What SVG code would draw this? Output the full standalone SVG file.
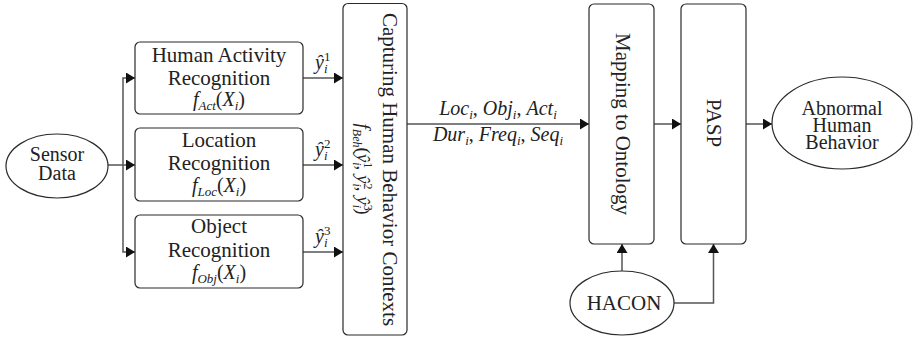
<svg xmlns="http://www.w3.org/2000/svg" width="913" height="339" viewBox="0 0 913 339">
  <defs>
    <marker id="arrow" markerUnits="userSpaceOnUse" markerWidth="10" markerHeight="12" refX="9" refY="5.5" orient="auto">
      <path d="M0,0 L9,5.5 L0,11 Z" fill="#111"/>
    </marker>
  </defs>
  <style>
    .box { fill: #fff; stroke: #2a2a2a; stroke-width: 1.2; }
    .oval { fill: #fff; stroke: #2a2a2a; stroke-width: 1.2; }
    .lbl { font-family: 'Liberation Serif', 'Times New Roman', Times, serif; font-size: 21px; fill: #222; text-anchor: middle; }
    .tight { font-size: 20px; }
    .math { font-family: 'Liberation Serif', 'Times New Roman', Times, serif; font-size: 20px; fill: #222; font-style: italic; }
    .up { font-style: normal; }
    .sub { font-size: 13px; }
    .wire { fill: none; stroke: #555; stroke-width: 1.5; marker-end: url(#arrow); }
  </style>

  <rect width="913" height="339" fill="#fff"/>

  <!-- connectors -->
  <g id="connectors">
    <path class="wire" d="M108,165 H135"/>
    <path class="wire" d="M123,165 V78 H135"/>
    <path class="wire" d="M123,165 V252 H135"/>
    <path class="wire" d="M303,78 H343"/>
    <path class="wire" d="M303,165 H343"/>
    <path class="wire" d="M303,252 H343"/>
    <path class="wire" d="M407,124 H589"/>
    <path class="wire" d="M654,124 H681"/>
    <path class="wire" d="M746,124 H772"/>
    <path class="wire" d="M622,271 V244"/>
    <path class="wire" d="M674,303 H713.5 V244"/>

    <!-- edge labels -->
    <text class="math" x="315" y="69">ŷ<tspan class="up sub" dy="-8">1</tspan><tspan class="sub" dx="-6.5" dy="12">i</tspan></text>
    <text class="math" x="315" y="156">ŷ<tspan class="up sub" dy="-8">2</tspan><tspan class="sub" dx="-6.5" dy="12">i</tspan></text>
    <text class="math" x="315" y="243">ŷ<tspan class="up sub" dy="-8">3</tspan><tspan class="sub" dx="-6.5" dy="12">i</tspan></text>

    <text class="math" x="498" y="115" text-anchor="middle">Loc<tspan class="sub" dy="4">i</tspan><tspan class="up" dy="-4">, </tspan>Obj<tspan class="sub" dy="4">i</tspan><tspan class="up" dy="-4">, </tspan>Act<tspan class="sub" dy="4">i</tspan></text>
    <text class="math" x="498" y="141" text-anchor="middle">Dur<tspan class="sub" dy="4">i</tspan><tspan class="up" dy="-4">, </tspan>Freq<tspan class="sub" dy="4">i</tspan><tspan class="up" dy="-4">, </tspan>Seq<tspan class="sub" dy="4">i</tspan></text>
  </g>

  <!-- input ellipse -->
  <g id="sensor-data">
    <ellipse class="oval" cx="57" cy="166" rx="51" ry="32"/>
    <text class="lbl tight" x="57" y="161">Sensor</text>
    <text class="lbl tight" x="57" y="180">Data</text>
  </g>

  <!-- recognition modules -->
  <g id="activity-recognition">
    <rect class="box" x="135" y="42" width="168" height="72" rx="5"/>
    <text class="lbl" x="219" y="62">Human Activity</text>
    <text class="lbl" x="219" y="85">Recognition</text>
    <text class="math" x="219" y="106" text-anchor="middle">f<tspan class="sub" dy="4">Act</tspan><tspan class="up" dy="-4">(</tspan>X<tspan class="sub" dy="4">i</tspan><tspan class="up" dy="-4">)</tspan></text>
  </g>

  <g id="location-recognition">
    <rect class="box" x="135" y="128" width="168" height="73" rx="5"/>
    <text class="lbl" x="219" y="147">Location</text>
    <text class="lbl" x="219" y="170">Recognition</text>
    <text class="math" x="219" y="192" text-anchor="middle">f<tspan class="sub" dy="4">Loc</tspan><tspan class="up" dy="-4">(</tspan>X<tspan class="sub" dy="4">i</tspan><tspan class="up" dy="-4">)</tspan></text>
  </g>

  <g id="object-recognition">
    <rect class="box" x="135" y="215" width="168" height="73" rx="5"/>
    <text class="lbl" x="219" y="233">Object</text>
    <text class="lbl" x="219" y="257">Recognition</text>
    <text class="math" x="219" y="279" text-anchor="middle">f<tspan class="sub" dy="4">Obj</tspan><tspan class="up" dy="-4">(</tspan>X<tspan class="sub" dy="4">i</tspan><tspan class="up" dy="-4">)</tspan></text>
  </g>

  <!-- context capture -->
  <g id="behavior-contexts">
    <rect class="box" x="343" y="3.5" width="64" height="331.5" rx="5"/>
    <text class="lbl" transform="translate(383,169.5) rotate(90)">Capturing Human Behavior Contexts</text>
    <text class="math" style="font-size:19px" text-anchor="middle" transform="translate(357,169) rotate(90)">f<tspan class="sub" style="font-size:12px" dy="4">Beh</tspan><tspan class="up" dy="-4">(</tspan>ŷ<tspan class="up sub" style="font-size:12px" dy="-7">1</tspan><tspan class="sub" style="font-size:12px" dx="-6" dy="11">i</tspan><tspan class="up" dy="-4">, </tspan>ŷ<tspan class="up sub" style="font-size:12px" dy="-7">2</tspan><tspan class="sub" style="font-size:12px" dx="-6" dy="11">i</tspan><tspan class="up" dy="-4">, </tspan>ŷ<tspan class="up sub" style="font-size:12px" dy="-7">3</tspan><tspan class="sub" style="font-size:12px" dx="-6" dy="11">i</tspan><tspan class="up" dy="-4">)</tspan></text>
  </g>

  <g id="ontology-mapping">
    <rect class="box" x="589" y="4" width="65" height="240" rx="5"/>
    <text class="lbl" transform="translate(616,124) rotate(90)">Mapping to Ontology</text>
  </g>

  <g id="pasp">
    <rect class="box" x="681" y="4" width="65" height="240" rx="5"/>
    <text class="lbl" transform="translate(707,123) rotate(90)">PASP</text>
  </g>

  <g id="abnormal-behavior">
    <ellipse class="oval" cx="842" cy="123" rx="70" ry="46"/>
    <text class="lbl tight" x="842" y="115">Abnormal</text>
    <text class="lbl tight" x="842" y="132">Human</text>
    <text class="lbl tight" x="842" y="149">Behavior</text>
  </g>

  <g id="hacon">
    <ellipse class="oval" cx="622" cy="303" rx="52" ry="32"/>
    <text class="lbl" x="624" y="310">HACON</text>
  </g>
</svg>
